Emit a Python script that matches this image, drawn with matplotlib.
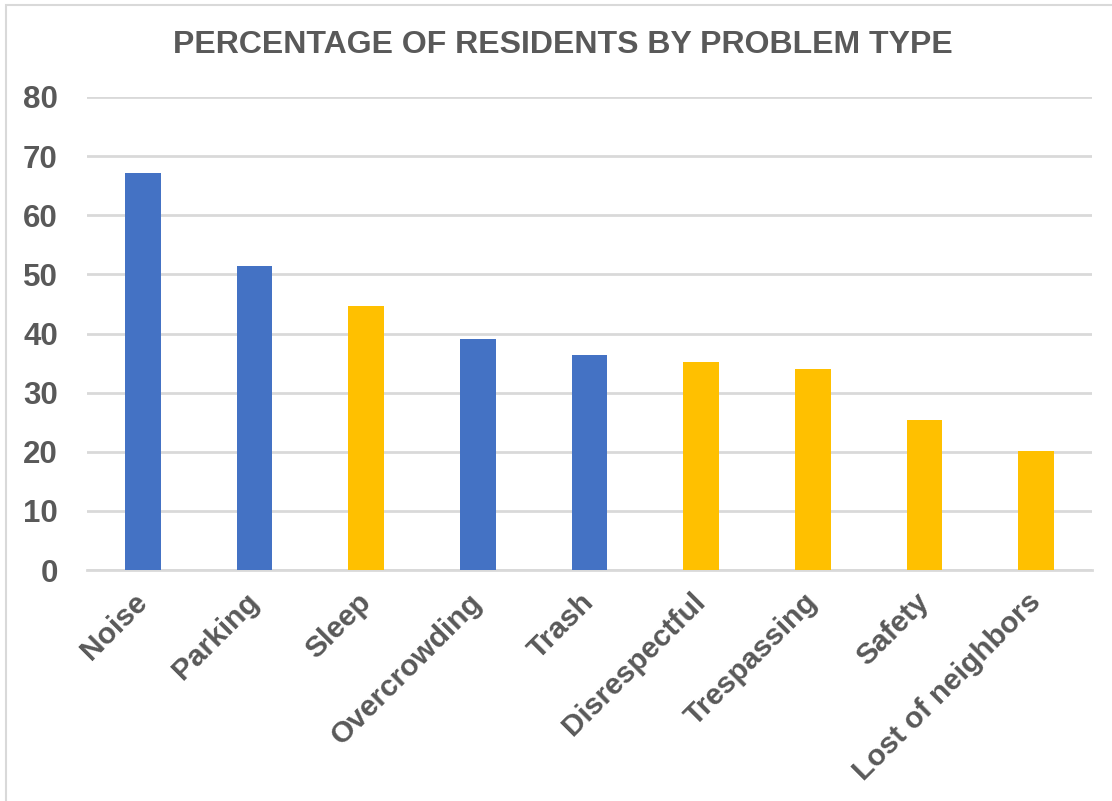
import matplotlib
matplotlib.use("Agg")
import matplotlib.pyplot as plt
from matplotlib.patches import Rectangle

categories = ["Noise", "Parking", "Sleep", "Overcrowding", "Trash",
              "Disrespectful", "Trespassing", "Safety", "Lost of neighbors"]
values = [67.1, 51.5, 44.7, 39.0, 36.4, 35.2, 34.0, 25.4, 20.1]
groups = ["blue", "blue", "yellow", "blue", "blue", "yellow", "yellow", "yellow", "yellow"]
yticks = [0, 10, 20, 30, 40, 50, 60, 70, 80]

palette = {"blue": "#4472C4", "yellow": "#FFC000"}
txt = "#595959"

plt.rcParams['font.family'] = ['Liberation Sans', 'DejaVu Sans']

fig = plt.figure(figsize=(11.12, 8.01), dpi=100)
ax = fig.add_axes([87/1112, 1-570/801, (1092-87)/1112, (570-97)/801])

x = list(range(len(categories)))
ax.bar(x, values, width=0.32, color=[palette[g] for g in groups], zorder=3)

ax.set_xlim(-0.5, len(categories) - 0.5)
ax.set_ylim(0, 80)
ax.set_yticks(yticks)
ax.set_yticklabels([str(t) for t in yticks], fontsize=22.5, fontweight='bold', color=txt)
ax.set_xticks(x)
ax.set_xticklabels(categories, fontsize=21.5, fontweight='bold', color=txt,
                   rotation=45, ha='right', va='center', rotation_mode='anchor')
ax.tick_params(axis='y', length=0, pad=21)
ax.tick_params(axis='x', length=0, pad=20)
ax.grid(axis='y', color='#D9D9D9', linewidth=2, zorder=0)
for s in ['top', 'right', 'left']:
    ax.spines[s].set_visible(False)
ax.spines['bottom'].set_color('#D9D9D9')
ax.spines['bottom'].set_linewidth(2)

fig.text(563/1112, 1-45/801, "PERCENTAGE OF RESIDENTS BY PROBLEM TYPE",
         ha='center', va='center', fontsize=23, fontweight='bold', color=txt)

fig.patches.append(Rectangle((6/1112, -0.01), 1.1, 1-5/801 + 0.01, transform=fig.transFigure,
                             fill=False, edgecolor='#D9D9D9', linewidth=1.5))

fig.savefig("out.png", dpi=100)
